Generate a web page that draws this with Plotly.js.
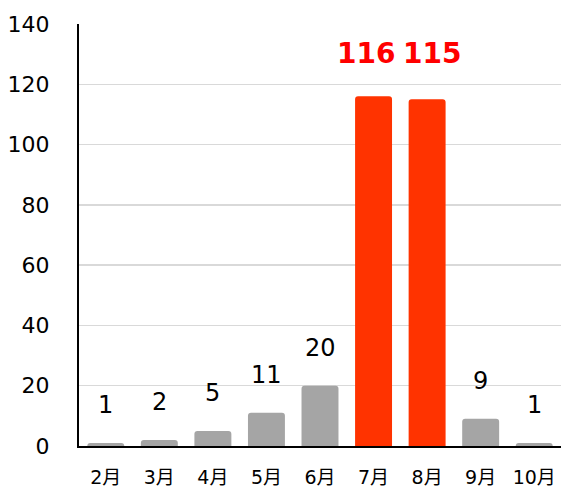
<!DOCTYPE html>
<html>
<head>
<meta charset="utf-8">
<script src="https://cdn.plot.ly/plotly-3.0.1.min.js"></script>
<style>html,body{margin:0;padding:0;background:#fff;}#chart{width:561px;height:490px;}</style>
</head>
<body>
<div id="chart"></div>
<script>
const months = ["2月","3月","4月","5月","6月","7月","8月","9月","10月"];
const counts = [1, 2, 5, 11, 20, 116, 115, 9, 1];
const highlight = [false, false, false, false, false, true, true, false, false];
const yTicks = [0, 20, 40, 60, 80, 100, 120, 140];

const gray = "#a5a5a5", red = "#ff3300";
const font = "DejaVu Sans, Verdana, Noto Sans CJK JP, sans-serif";

const trace = {
  type: "bar",
  x: months,
  y: counts,
  marker: { color: highlight.map(h => h ? red : gray), cornerradius: 3 },
  hoverinfo: "none"
};

const redMax = Math.max(...counts.filter((c, i) => highlight[i]));
const redShift = { "7月": -8, "8月": 5 };
const annotations = months.map((m, i) => ({
  x: m, y: highlight[i] ? redMax : counts[i], xref: "x", yref: "y",
  text: String(counts[i]),
  showarrow: false, yanchor: "middle", yshift: highlight[i] ? 43 : 38,
  xshift: highlight[i] ? (redShift[m] || 0) : 0,
  font: highlight[i] ? { family: font, size: 28, color: "#ff0000", weight: "bold" }
                     : { family: font, size: 24, color: "#000000" }
}));

const layout = {
  width: 561, height: 490,
  margin: { l: 79, r: 0, t: 24, b: 44, pad: 0 },
  paper_bgcolor: "#ffffff", plot_bgcolor: "#ffffff",
  showlegend: false,
  bargap: 0.31,
  font: { family: font, color: "#000000" },
  xaxis: {
    type: "category",
    showline: true, linecolor: "#000000", linewidth: 2,
    showgrid: false, ticks: "", ticklabelstandoff: 13,
    tickfont: { family: font, size: 19, color: "#000000" }
  },
  yaxis: {
    range: [0, 140], tickvals: yTicks, ticktext: yTicks.map(String),
    showline: true, linecolor: "#000000", linewidth: 2,
    showgrid: true, gridcolor: "#d9d9d9", gridwidth: 1.5,
    zeroline: false, ticks: "", ticklabelstandoff: 23,
    tickfont: { family: font, size: 22, color: "#000000" }
  },
  annotations: annotations
};

Plotly.newPlot("chart", [trace], layout, { staticPlot: true, displayModeBar: false });
</script>
</body>
</html>
